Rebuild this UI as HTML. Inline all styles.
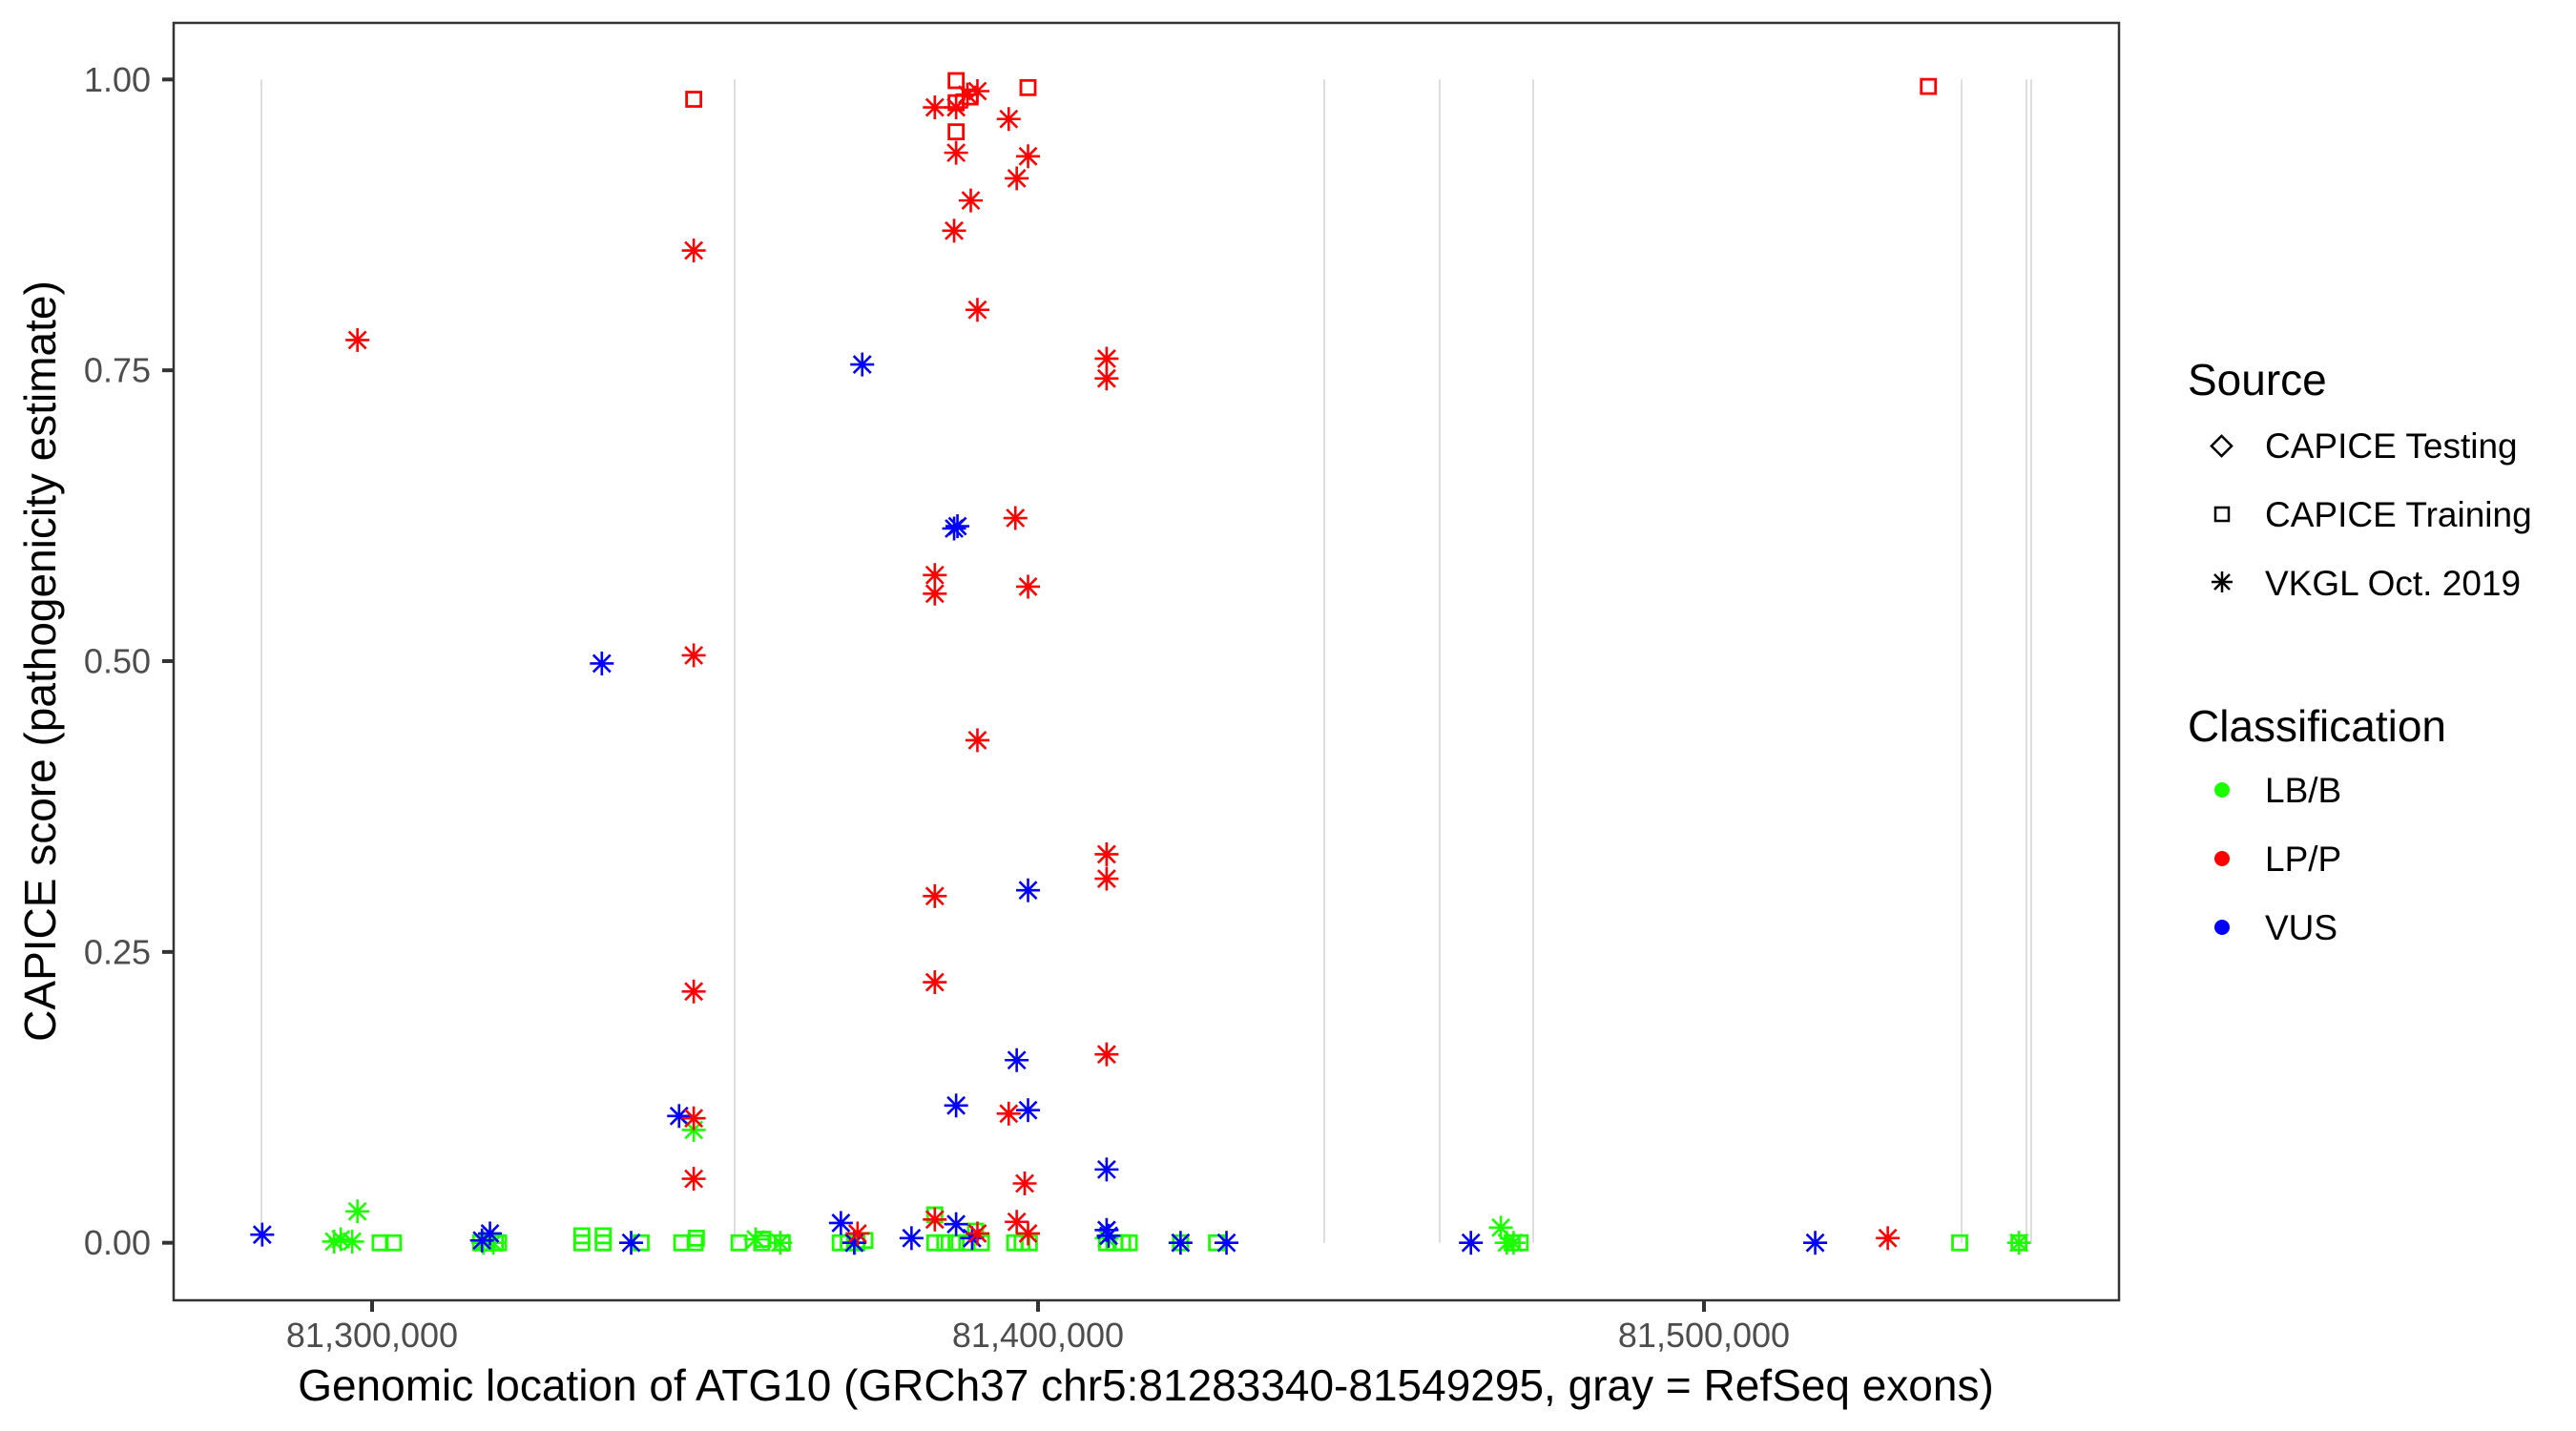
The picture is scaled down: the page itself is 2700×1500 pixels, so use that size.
<!DOCTYPE html>
<html><head><meta charset="utf-8"><style>
html,body{margin:0;padding:0;background:#fff;}
svg{display:block;font-family:"Liberation Sans",Arial,sans-serif;}
</style></head><body>
<svg id="chart" width="2700" height="1500" viewBox="0 0 2700 1500" xmlns="http://www.w3.org/2000/svg">
<rect x="0" y="0" width="2700" height="1500" fill="#fff"/>
<g id="exons"></g>
<g id="points"></g>
<rect x="182" y="24" width="2039" height="1339" fill="none" stroke="#333" stroke-width="2.5"/>
<g id="yaxis"></g>
<g id="xaxis"></g>
<text transform="translate(58,693) rotate(-90)" text-anchor="middle" font-size="46" fill="#000">CAPICE score (pathogenicity estimate)</text>
<text x="1201" y="1468" text-anchor="middle" font-size="46" fill="#000">Genomic location of ATG10 (GRCh37 chr5:81283340-81549295, gray = RefSeq exons)</text>
<g>
<text x="2293" y="414" font-size="46" fill="#000">Source</text>
<g>
<rect x="2321" y="460" width="15" height="15" transform="rotate(45 2328.5 467.5)" fill="none" stroke="#000" stroke-width="2.5"/>
<text x="2374" y="480" font-size="37" fill="#000">CAPICE Testing</text></g>
<g>
<rect x="2322" y="532" width="14" height="14" fill="none" stroke="#000" stroke-width="2.5"/>
<text x="2374" y="552" font-size="37" fill="#000">CAPICE Training</text></g>
<g stroke="#000" stroke-width="2.5">
<line x1="2329" y1="599" x2="2329" y2="621"/><line x1="2318" y1="610" x2="2340" y2="610"/>
<line x1="2321" y1="602" x2="2337" y2="618"/><line x1="2321" y1="618" x2="2337" y2="602"/>
<text x="2374" y="624" font-size="37" fill="#000" stroke="none">VKGL Oct. 2019</text></g>
</g>
<g>
<text x="2293" y="777" font-size="46" fill="#000">Classification</text>
<g><circle cx="2329" cy="828" r="8" fill="#1aff00"/><text x="2374" y="841" font-size="37" fill="#000">LB/B</text></g>
<g><circle cx="2329" cy="900" r="8" fill="#ff0000"/><text x="2374" y="913" font-size="37" fill="#000">LP/P</text></g>
<g><circle cx="2329" cy="972" r="8" fill="#0000ff"/><text x="2374" y="985" font-size="37" fill="#000">VUS</text></g>
</g>
</svg>
<script>
const exonPositions = [81283381,81354441,81442980,81460315,81474355,81538682,81548424,81549140];
const yTicks = [0,0.25,0.5,0.75,1.0];
const yTickLabels = ["0.00","0.25","0.50","0.75","1.00"];
const xTicks = [81300000,81400000,81500000];
const xTickLabels = ["81,300,000","81,400,000","81,500,000"];

const lppStarPos = [81297800,81348300,81348300,81348300,81348300,81348300,81384500,81387700,81389400,81390900,81395600,81387700,81389900,81387400,81398500,81396800,81390900,81410300,81410300,81396600,81384500,81384500,81398500,81390900,81384500,81384500,81410300,81410300,81410300,81395600,81398000,81396800,81398500,81384500,81372900,81390900,81527600];
const lppStarScore = [0.776,0.853,0.505,0.216,0.107,0.055,0.976,0.976,0.987,0.990,0.966,0.937,0.896,0.870,0.934,0.915,0.802,0.760,0.743,0.623,0.574,0.558,0.564,0.432,0.298,0.224,0.334,0.313,0.162,0.111,0.051,0.018,0.008,0.020,0.008,0.008,0.004];
const lppSquarePos = [81348300,81387700,81387700,81389800,81387700,81398500,81533700];
const lppSquareScore = [0.983,0.999,0.980,0.985,0.955,0.993,0.994];
const vusStarPos = [81283500,81316500,81317700,81334500,81346100,81338900,81373600,81387400,81387900,81387700,81396800,81398500,81398500,81410300,81410300,81410600,81370400,81372400,81381000,81387700,81390100,81421400,81428300,81465000,81516700];
const vusStarScore = [0.007,0.002,0.008,0.498,0.109,0,0.755,0.614,0.616,0.118,0.157,0.303,0.114,0.063,0.011,0.006,0.017,0,0.004,0.016,0.004,0,0,0,0];
const lbbStarPos = [81297800,81294300,81295300,81297000,81316700,81318200,81348300,81469500,81470400,81471400,81547300,81361300,81372500,81410300,81357600];
const lbbStarScore = [0.027,0.001,0.003,0.001,0,0,0.097,0.013,0,0,0,0,0,0.004,0.003];
const lbbSquarePos = [81301200,81303200,81316300,81317300,81318500,81319000,81331500,81331500,81334700,81334700,81340400,81346500,81348500,81348700,81355100,81358500,81358700,81361600,81370300,81371500,81372800,81374000,81384500,81384500,81386000,81387700,81389300,81390600,81391500,81396500,81397600,81398700,81410300,81411500,81412700,81413700,81421400,81426800,81538400,81547300,81472400,81471200];
const lbbSquareScore = [0,0,0,0,0,0,0,0.006,0,0.006,0,0,0,0.004,0,0,0.003,0,0,0,0,0.002,0,0.024,0,0,0,0.01,0,0,0,0,0,0,0,0,0,0,0,0,0,0];

const NS = "http://www.w3.org/2000/svg";
function xScale(g){ return 390 + (g - 81300000) * 0.00698; }
function yScale(v){ return 1302.7 - v * 1219.4; }
function mk(tag, attrs, parent){ const e = document.createElementNS(NS, tag); for (const k in attrs) e.setAttribute(k, attrs[k]); parent.appendChild(e); return e; }

const exG = document.getElementById('exons');
exonPositions.forEach(p => {
  const l = mk('line', {x1: xScale(p), x2: xScale(p), y1: yScale(1), y2: yScale(0), stroke: '#cfcfcf', 'stroke-width': 1.4}, exG);
  
  
});

const yG = document.getElementById('yaxis');
yTicks.forEach((t, i) => {
  const y = yScale(t);
  const tk = mk('line', {x1: 170, x2: 182, y1: y, y2: y, stroke: '#333', 'stroke-width': 4}, yG);
  
  
  const tx = mk('text', {x: 158, y: y + 12.5, 'text-anchor': 'end', 'font-size': 36, fill: '#4d4d4d'}, yG);
  tx.textContent = yTickLabels[i];
  
  
});
const xG = document.getElementById('xaxis');
xTicks.forEach((t, i) => {
  const x = xScale(t);
  const tk = mk('line', {x1: x, x2: x, y1: 1363, y2: 1375, stroke: '#333', 'stroke-width': 4}, xG);
  
  
  const tx = mk('text', {x: x, y: 1412, 'text-anchor': 'middle', 'font-size': 36, fill: '#4d4d4d'}, xG);
  tx.textContent = xTickLabels[i];
  
  
});

const pG = document.getElementById('points');
function square(pos, score, color, name){
  pos.forEach((p, i) => {
    const x = xScale(p), y = yScale(score[i]);
    const r = mk('rect', {x: x - 7.5, y: y - 7.5, width: 15, height: 15, fill: 'none', stroke: color, 'stroke-width': 2.8}, pG);
    
    
  });
}
function star(pos, score, color, name){
  pos.forEach((p, i) => {
    const x = xScale(p), y = yScale(score[i]);
    const g = mk('g', {stroke: color, 'stroke-width': 2.6}, pG);
    
    
    const R = 12.5, d = 9;
    mk('line', {x1: x, y1: y - R, x2: x, y2: y + R}, g);
    mk('line', {x1: x - R, y1: y, x2: x + R, y2: y}, g);
    mk('line', {x1: x - d, y1: y - d, x2: x + d, y2: y + d}, g);
    mk('line', {x1: x - d, y1: y + d, x2: x + d, y2: y - d}, g);
  });
}
square(lbbSquarePos, lbbSquareScore, '#1aff00', 'point-lbb-training');
star(lbbStarPos, lbbStarScore, '#1aff00', 'point-lbb-vkgl');
star(vusStarPos, vusStarScore, '#0000ff', 'point-vus-vkgl');
square(lppSquarePos, lppSquareScore, '#ff0000', 'point-lpp-training');
star(lppStarPos, lppStarScore, '#ff0000', 'point-lpp-vkgl');
</script>
</body></html>
